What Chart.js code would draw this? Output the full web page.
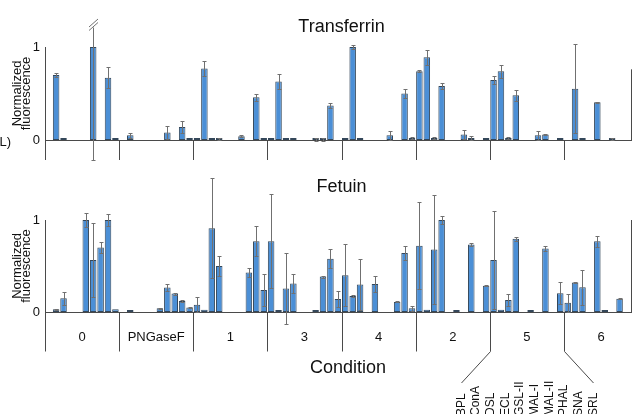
<!DOCTYPE html>
<html>
<head>
<meta charset="utf-8">
<script src="https://cdn.jsdelivr.net/npm/chart.js@4/dist/chart.umd.min.js"></script>
<style>
  html, body { margin:0; padding:0; background:#fff; overflow:hidden; width:632px; height:414px; }
  canvas { position:absolute; left:0; top:0; }
</style>
</head>
<body>
<canvas id="tf" width="640" height="414"></canvas>
<canvas id="fe" width="640" height="414"></canvas>
<script>
/* -------- DATA -------- */
const lectins = ['BPL','ConA','DSL','ECL','GSL-II','MAL-I','MAL-II','PHAL','SNA','SRL'];
const conditions = ['0','PNGaseF','1','3','4','2','5','6'];
const yTicks = [0, 1];

// one row per condition, one value per lectin (null = no bar)
const transferrin = [
  null, 0.70, 0.005, null, null, null, 1.00, null, 0.67, 0.005,
  null, 0.05, null, null, null, null, 0.08, null, 0.14, 0.005,
  0.005, 0.77, 0.008, 0.01, null, null, 0.04, null, 0.46, 0.005,
  0.005, 0.63, 0.005, 0.005, null, null, 0.005, 0.005, 0.37, null,
  0.003, 1.00, 0.008, null, null, null, 0.05, null, 0.50, 0.02,
  0.74, 0.89, 0.02, 0.58, null, null, 0.06, 0.02, null, 0.003,
  0.645, 0.74, 0.02, 0.48, null, null, 0.05, 0.06, null, 0.003,
  null, 0.55, 0.005, null, 0.405, null, 0.008, null, null, null
];
const transferrinErr = [
  0, 0.02, 0, 0, 0, 0, 1.22, 0, 0.11, 0,
  0, 0.03, 0, 0, 0, 0, 0.07, 0, 0.06, 0,
  0, 0.08, 0, 0.01, 0, 0, 0.01, 0, 0.04, 0,
  0, 0.08, 0, 0, 0, 0, 0.02, 0.02, 0.03, 0,
  0, 0.02, 0, 0, 0, 0, 0.05, 0, 0.05, 0.01,
  0.01, 0.08, 0.01, 0.03, 0, 0, 0.05, 0.02, 0, 0,
  0.045, 0.07, 0.01, 0.06, 0, 0, 0.05, 0.005, 0, 0,
  0, 0.48, 0, 0, 0.005, 0, 0.01, 0, 0, 0
];
const fetuin = [
  null, 0.03, 0.15, null, null, 1.00, 0.565, 0.70, 1.00, 0.03,
  null, 0.005, null, null, null, 0.04, 0.265, 0.20, 0.12, 0.05,
  0.08, 0.025, 0.91, 0.50, null, null, null, 0.43, 0.77, 0.24,
  0.77, 0.02, 0.255, 0.31, null, null, 0.005, 0.385, 0.58, 0.14,
  0.40, 0.175, 0.30, null, 0.305, null, null, 0.11, 0.64, 0.04,
  0.72, 0.025, 0.68, 1.00, null, 0.01, null, 0.735, null, 0.285,
  0.565, 0.025, 0.13, 0.795, null, 0.003, null, 0.69, null, 0.205,
  0.10, 0.32, 0.27, null, 0.77, 0.003, null, 0.145, null, null
];
const fetuinErr = [
  0, 0.005, 0.07, 0, 0, 0.08, 0.40, 0.06, 0.06, 0,
  0, 0, 0, 0, 0, 0.003, 0.035, 0.01, 0.01, 0.003,
  0.08, 0, 0.545, 0.11, 0, 0, 0, 0.045, 0.165, 0.175,
  0.51, 0, 0.385, 0.10, 0, 0, 0, 0.01, 0.10, 0.09,
  0.34, 0.01, 0.28, 0, 0.085, 0, 0, 0.005, 0.08, 0.03,
  0.475, 0, 0.59, 0.04, 0, 0, 0, 0.02, 0, 0.005,
  0.535, 0, 0.07, 0.02, 0, 0, 0, 0.03, 0, 0.12,
  0.10, 0.01, 0.19, 0, 0.06, 0, 0, 0.005, 0, 0
];

const labels = conditions.flatMap(c => lectins.map(l => c + ' ' + l));

Chart.defaults.font.family = "'Liberation Sans', Arial, sans-serif";
const AXIS = '#4a4a4a';
const FONT = "'Liberation Sans', Arial, sans-serif";

/* -------- ERROR BARS -------- */
const errorBars = {
  id: 'errorBars',
  afterDatasetsDraw(chart, args, opts) {
    const {ctx, scales: {y}} = chart;
    const meta = chart.getDatasetMeta(0);
    const vals = chart.data.datasets[0].data;
    ctx.save();
    ctx.strokeStyle = '#707070';
    ctx.lineWidth = 1;
    meta.data.forEach((bar, i) => {
      const v = vals[i], e = opts.err[i];
      if (v == null || !e) return;
      const x = Math.round(bar.x) + 0.5;
      const broken = opts.breakAt != null && v + e > opts.breakAt;
      const top = Math.round(y.getPixelForValue(broken ? opts.breakAt : v + e)) + 0.5;
      const bot = Math.round(y.getPixelForValue(v - e)) + 0.5;
      ctx.beginPath();
      ctx.moveTo(x, top); ctx.lineTo(x, bot);
      if (!broken) { ctx.moveTo(x - 2, top); ctx.lineTo(x + 2, top); }
      ctx.moveTo(x - 2, bot); ctx.lineTo(x + 2, bot);
      ctx.stroke();
      if (broken) {
        ctx.beginPath();
        ctx.moveTo(x - 4.5, top + 3); ctx.lineTo(x + 4.5, top - 5);
        ctx.moveTo(x - 4.5, top - 0.5); ctx.lineTo(x + 4.5, top - 8.5);
        ctx.stroke();
      }
    });
    ctx.restore();
  }
};

/* -------- PANEL EXTRAS: title, group ticks, condition labels -------- */
const panelDecor = {
  id: 'panelDecor',
  afterDraw(chart, args, o) {
    const {ctx, chartArea, scales: {x, y}} = chart;
    const step = x.getPixelForValue(1) - x.getPixelForValue(0);
    const edge = g => Math.round(x.getPixelForValue(g * lectins.length) - step / 2) + 0.5;
    ctx.save();
    ctx.fillStyle = '#111';
    ctx.font = '18px ' + FONT;
    ctx.textAlign = 'center';
    ctx.textBaseline = 'alphabetic';
    ctx.fillText(o.title, (chartArea.left + chartArea.right) / 2, chartArea.top - o.titleGap);

    ctx.strokeStyle = AXIS;
    ctx.lineWidth = 1;
    ctx.beginPath();
    conditions.forEach((c, g) => {
      ctx.moveTo(edge(g), chartArea.bottom);
      ctx.lineTo(edge(g), chartArea.bottom + o.depth);
    });
    // axis of the neighbouring panel, cut by the page edge
    ctx.moveTo(o.rightX, y.getPixelForValue(o.rightTop));
    ctx.lineTo(o.rightX, chartArea.bottom);
    ctx.stroke();

    if (o.leftNote) {
      ctx.font = '13px ' + FONT;
      ctx.textAlign = 'right';
      ctx.textBaseline = 'middle';
      ctx.fillText(o.leftNote, 11, chartArea.bottom + 2);
    }

    if (o.conditions) {
      const base = chartArea.bottom;
      ctx.font = '13px ' + FONT;
      ctx.textAlign = 'center';
      ctx.textBaseline = 'alphabetic';
      conditions.forEach((c, g) => {
        const cx = (x.getPixelForValue(g * 10) + x.getPixelForValue(g * 10 + 9)) / 2;
        ctx.fillText(c, cx, base + 28.5);
      });
      ctx.font = '18px ' + FONT;
      ctx.fillText('Condition', (chartArea.left + chartArea.right) / 2 + 6.5, base + 60.5);

      // fan out lectin names under condition "5"
      const g = 6;
      const l = edge(g), r = edge(g + 1);
      const fanTop = base + o.depth, fanBot = fanTop + 31.5;
      const lx = l - 29, rx = r + 29;
      ctx.beginPath();
      ctx.moveTo(l, fanTop); ctx.lineTo(lx, fanBot);
      ctx.moveTo(r, fanTop); ctx.lineTo(rx, fanBot);
      ctx.stroke();
      ctx.font = '12px ' + FONT;
      ctx.textAlign = 'left';
      ctx.textBaseline = 'middle';
      lectins.forEach((name, i) => {
        const px = lx + (rx - lx) * i / (lectins.length - 1);
        ctx.save();
        ctx.translate(px, 416);
        ctx.rotate(-Math.PI / 2);
        ctx.fillText(name, 0, 0);
        ctx.restore();
      });
    }
    ctx.restore();
  }
};

function makePanel(id, values, errs, pad, decor, breakAt) {
  return new Chart(document.getElementById(id), {
    type: 'bar',
    data: {
      labels: labels,
      datasets: [{
        data: values,
        backgroundColor: '#4b8fd6',
        borderColor: '#34475a',
        borderWidth: 1,
        borderSkipped: false,
        categoryPercentage: 1,
        barPercentage: 0.88,
        minBarLength: 2,
        clip: false
      }]
    },
    options: {
      responsive: false,
      animation: false,
      devicePixelRatio: 1,
      layout: { padding: { left: 0, right: 1.9, top: pad.top, bottom: pad.bottom } },
      plugins: {
        legend: { display: false },
        tooltip: { enabled: false },
        errorBars: { err: errs, breakAt: breakAt },
        panelDecor: decor
      },
      scales: {
        x: {
          type: 'category',
          offset: true,
          grid: { display: false, drawTicks: false },
          ticks: { display: false },
          border: { display: true, color: AXIS, width: 1 },
          afterFit: s => { s.height = 0; }
        },
        y: {
          min: 0, max: 1,
          afterBuildTicks: s => { s.ticks = yTicks.map(v => ({ value: v })); },
          ticks: { color: '#111', font: { size: 13 }, padding: 5 },
          grid: { display: false, drawTicks: false },
          border: { display: true, color: AXIS, width: 1 },
          title: {
            display: true,
            text: ['Normalized', 'fluorescence'],
            color: '#111',
            font: { size: 13, lineHeight: 0.72 },
            padding: { top: 12.3, bottom: 0 }
          },
          afterFit: s => { s.width = 45; }
        }
      }
    },
    plugins: [errorBars, panelDecor]
  });
}

makePanel('tf', transferrin, transferrinErr, { top: 47, bottom: 274 },
  { title: 'Transferrin', titleGap: 15.5, depth: 20, rightX: 631.5, rightTop: 0.76, leftNote: '(µL)' }, 1.22);

makePanel('fe', fetuin, fetuinErr, { top: 220, bottom: 102 },
  { title: 'Fetuin', titleGap: 28, depth: 39.5, rightX: 631.5, rightTop: 1, conditions: true }, null);
</script>
</body>
</html>
